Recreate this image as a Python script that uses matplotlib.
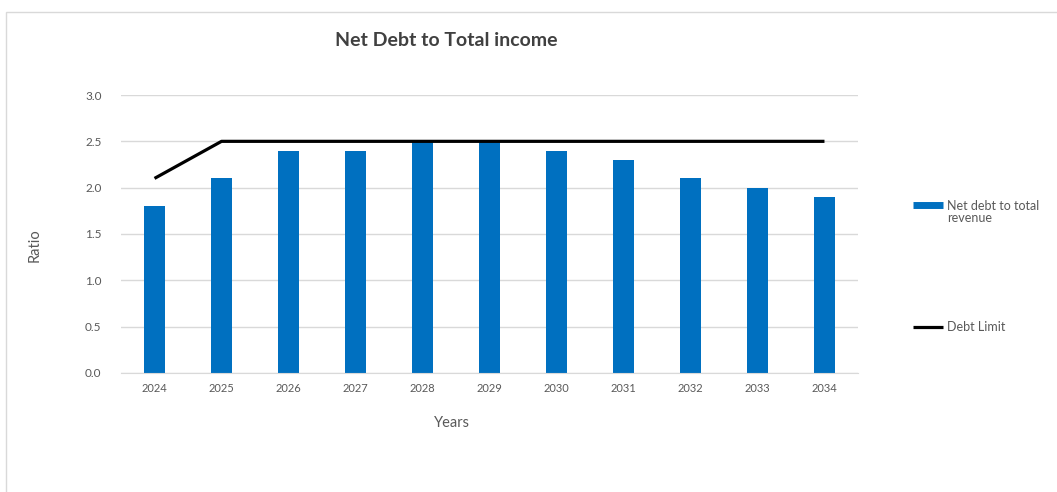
import numpy as np
import matplotlib.pyplot as plt
from matplotlib.patches import Rectangle
from matplotlib.lines import Line2D

plt.rcParams['font.family'] = ['Lato', 'DejaVu Sans']

# 数据
years = ['2024', '2025', '2026', '2027', '2028', '2029',
         '2030', '2031', '2032', '2033', '2034']
net_debt_ratio = [1.8, 2.1, 2.4, 2.4, 2.5, 2.5, 2.4, 2.3, 2.1, 2.0, 1.9]
debt_limit = [2.1, 2.5, 2.5, 2.5, 2.5, 2.5, 2.5, 2.5, 2.5, 2.5, 2.5]
y_ticks = [0.0, 0.5, 1.0, 1.5, 2.0, 2.5, 3.0]

bar_color = '#0070C0'
text_color = '#595959'

fig = plt.figure(figsize=(10.57, 4.92), dpi=100, facecolor='w')
# 外框
fig.patches.append(Rectangle((6 / 1057, -0.01), 1.0, 1 - 12 / 492 + 0.01,
                             transform=fig.transFigure, fill=False,
                             edgecolor='#d9d9d9', linewidth=1))

ax = fig.add_axes([0.1145, 0.2419, 0.6972, 0.565])
x = np.arange(len(years))
ax.bar(x, net_debt_ratio, width=0.31, color=bar_color, zorder=2)
ax.plot(x, debt_limit, color='black', linewidth=2.3, zorder=3,
        solid_capstyle='butt')

ax.set_xlim(-0.5, len(years) - 0.5)
ax.set_ylim(0, 3.0)
ax.set_yticks(y_ticks)
ax.set_yticklabels(['%.1f' % v for v in y_ticks])
ax.set_xticks(x)
ax.set_xticklabels(years)
ax.grid(axis='y', color='#d9d9d9', linewidth=1, zorder=0)
for s in ['top', 'right', 'left']:
    ax.spines[s].set_visible(False)
ax.spines['bottom'].set_color('#d9d9d9')
ax.tick_params(axis='both', length=0, colors=text_color)
ax.tick_params(axis='y', labelsize=8.5, pad=14)
ax.tick_params(axis='x', labelsize=8, pad=7)

fig.text(452 / 1057, 1 - 423 / 492, 'Years', fontsize=10.5,
         color=text_color, ha='center', va='center')
fig.text(35 / 1057, 1 - 245 / 492, 'Ratio', rotation=90, fontsize=10.5,
         color=text_color, ha='center', va='center')
fig.text(446 / 1057, 1 - 40 / 492, 'Net Debt to Total income',
         fontsize=14, fontweight='bold', color='#404040',
         ha='center', va='center')

# 图例
fig.lines.append(Line2D([913 / 1057, 943 / 1057], [1 - 205 / 492] * 2,
                        transform=fig.transFigure, color=bar_color,
                        linewidth=5, solid_capstyle='butt'))
fig.text(947 / 1057, 1 - 212 / 492, 'Net debt to total\nrevenue',
         fontsize=9, color=text_color, va='center', ha='left',
         linespacing=1.1)
fig.lines.append(Line2D([913 / 1057, 943 / 1057], [1 - 327 / 492] * 2,
                        transform=fig.transFigure, color='black',
                        linewidth=2.3, solid_capstyle='butt'))
fig.text(947 / 1057, 1 - 327 / 492, 'Debt Limit',
         fontsize=9, color=text_color, va='center', ha='left')

plt.savefig('out.png', dpi=100, facecolor='w')
